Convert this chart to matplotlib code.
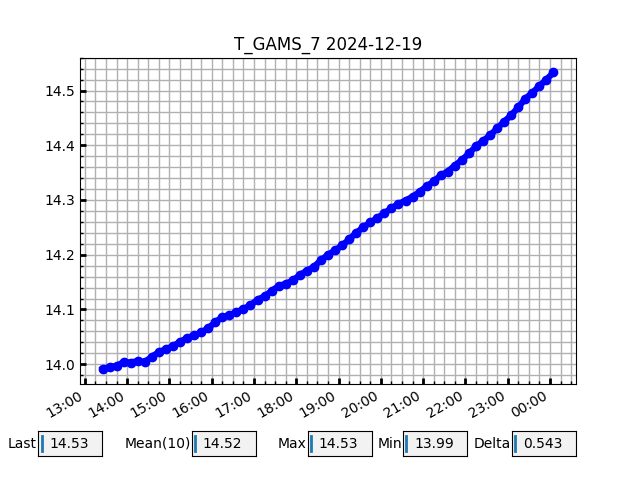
import numpy as np
import pandas as pd
import matplotlib
matplotlib.use("Agg")
import matplotlib.pyplot as plt
import matplotlib.dates as mdates
from matplotlib.ticker import MultipleLocator

# readings every 10 min, 2024-12-19 13:25 -> 2024-12-20 00:05
times = pd.date_range("2024-12-19 13:25", "2024-12-20 00:05", freq="10min")
temps = [
    13.991, 13.995, 13.997, 14.004, 14.003, 14.006, 14.004, 14.014, 14.022, 14.028,
    14.033, 14.041, 14.048, 14.053, 14.058, 14.066, 14.077, 14.086, 14.090, 14.095,
    14.101, 14.108, 14.118, 14.124, 14.134, 14.143, 14.147, 14.153, 14.163, 14.171,
    14.178, 14.190, 14.200, 14.208, 14.217, 14.228, 14.240, 14.250, 14.259, 14.267,
    14.276, 14.285, 14.293, 14.299, 14.306, 14.315, 14.325, 14.334, 14.345, 14.352,
    14.363, 14.373, 14.385, 14.398, 14.408, 14.418, 14.431, 14.443, 14.455, 14.469,
    14.485, 14.496, 14.508, 14.520, 14.533,
]

stat_labels = ["Last", "Mean(10)", "Max", "Min", "Delta"]
stat_values = ["14.53", "14.52", "14.53", "13.99", "0.543"]
stat_x = [0.06, 0.30, 0.481, 0.63, 0.80]

fig, ax = plt.subplots(figsize=(6.4, 4.8), dpi=100)
ax.plot(times, temps, color="blue", marker="o", markersize=6, linewidth=4.5)

ax.set_title("T_GAMS_7 2024-12-19")
ax.xaxis.set_major_locator(mdates.HourLocator())
ax.xaxis.set_minor_locator(mdates.MinuteLocator(byminute=[0, 15, 30, 45]))
ax.xaxis.set_major_formatter(mdates.DateFormatter("%H:%M"))
ax.yaxis.set_major_locator(MultipleLocator(0.1))
ax.yaxis.set_minor_locator(MultipleLocator(0.02))
ax.grid(which="both", color="#b0b0b0", linewidth=1)
ax.set_axisbelow(True)
ax.tick_params(which="major", direction="in", length=4, width=2)
ax.tick_params(which="minor", direction="in", length=2.5, width=1)
fig.autofmt_xdate(bottom=0.2, rotation=30, ha="right")

# stats boxes along the bottom
for lab, val, x0 in zip(stat_labels, stat_values, stat_x):
    bax = fig.add_axes([x0, 0.05, 0.1, 0.052])
    bax.set_facecolor("0.95")
    bax.set_xticks([]); bax.set_yticks([])
    bax.set_xlim(0, 1); bax.set_ylim(0, 1)
    bax.text(-0.02, 0.5, lab, ha="right", va="center", transform=bax.transAxes)
    bax.text(0.17, 0.5, val, ha="left", va="center", transform=bax.transAxes)
    bax.plot([0.05, 0.05], [0.22, 0.8], color="#1f77b4", linewidth=2)

fig.savefig("out.png", dpi=100)
